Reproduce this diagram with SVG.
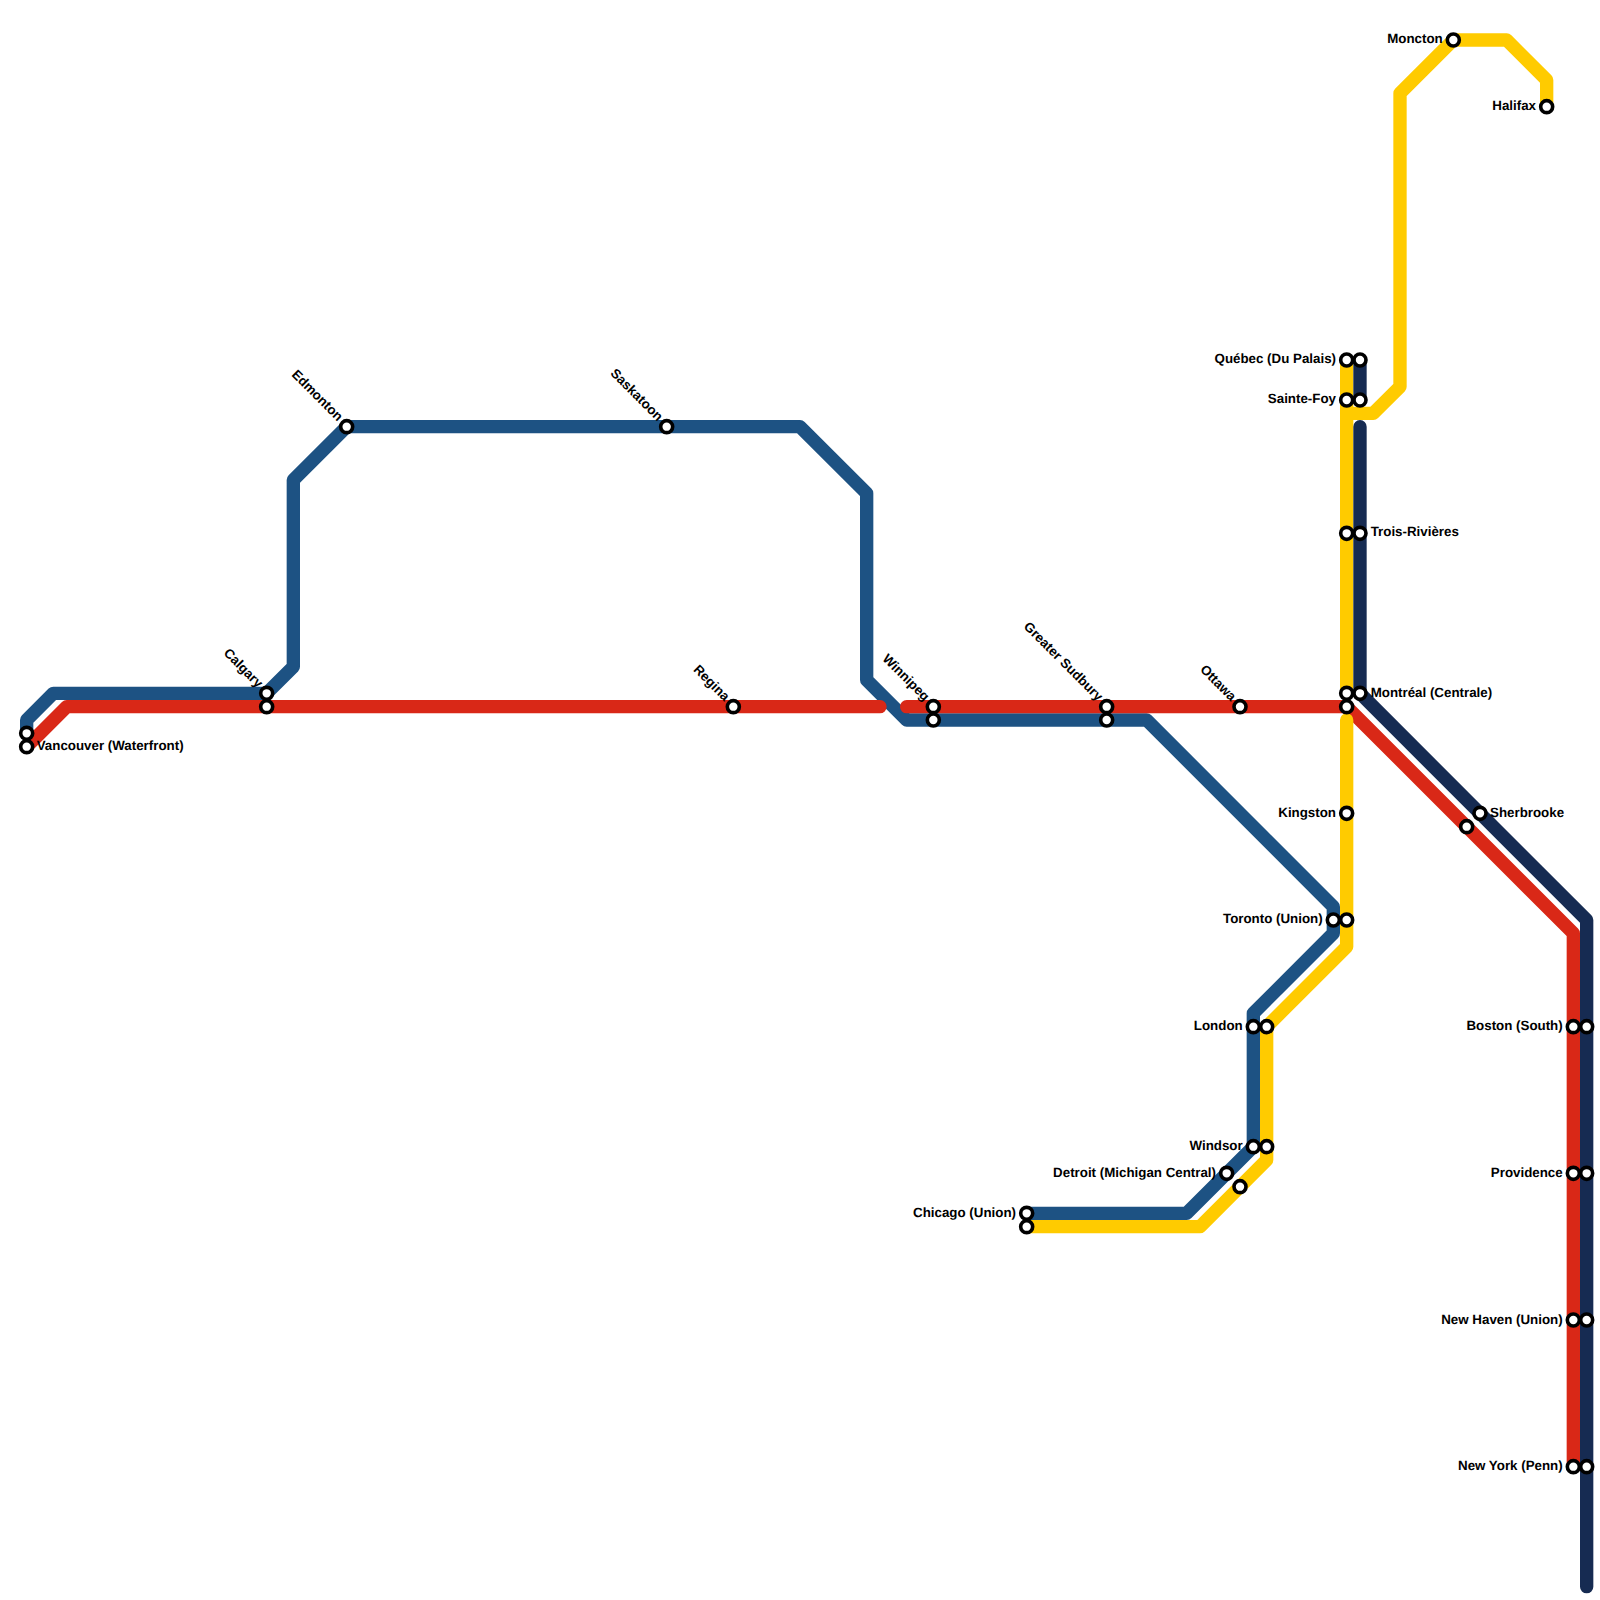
<svg xmlns="http://www.w3.org/2000/svg" width="1600" height="1600" viewBox="0 0 1600 1600">
<style>
.line{fill:none;stroke-width:13.33;stroke-linecap:round;stroke-linejoin:round}
.blue{stroke:#1d5283}.red{stroke:#d92817}.yellow{stroke:#ffcb00}.navy{stroke:#162b52}
.st{fill:#fff;stroke:#000;stroke-width:3.6}
text{font-family:"Liberation Sans",Arial,sans-serif;font-weight:700;font-size:13.33px;fill:#000;text-rendering:geometricPrecision}
.e{text-anchor:end}
</style>
<rect width="1600" height="1600" fill="#fff"/>
<g id="connectors">
<path class="line blue" d="M26.67 733.33V720L53.33 693.33H266.67L293.33 666.67V480L346.67 426.67H800L866.67 493.33V680L906.67 720H1146.67L1333.33 906.67V933.33L1253.33 1013.33V1146.67L1186.67 1213.33H1026.67"/>
<path class="line red" d="M26.67 746.67L66.67 706.67H880"/>
<path class="line red" d="M906.67 706.67H1346.67L1573.33 933.33V1466.67"/>
<path class="line yellow" d="M1346.67 360V693.33"/>
<path class="line yellow" d="M1346.67 413.33H1373.33L1400 386.67V93.33L1453.33 40H1506.67L1546.67 80V106.67"/>
<path class="line yellow" d="M1346.67 720V946.67L1266.67 1026.67V1160L1200 1226.67H1026.67"/>
<path class="line navy" d="M1360 360V400"/>
<path class="line navy" d="M1360 426.67V693.33L1586.67 920V1586.67"/>
</g>
<g id="vancouver"><circle class="st" cx="26.67" cy="733.33" r="6"/><circle class="st" cx="26.67" cy="746.67" r="6"/><text x="36.7" y="750">Vancouver (Waterfront)</text></g>
<g id="calgary"><circle class="st" cx="266.67" cy="693.33" r="6"/><circle class="st" cx="266.67" cy="706.67" r="6"/><text class="e" transform="translate(266.67 693.33) rotate(45)" x="-10" y="3">Calgary</text></g>
<g id="edmonton"><circle class="st" cx="346.67" cy="426.67" r="6"/><text class="e" transform="translate(346.67 426.67) rotate(45)" x="-10" y="3">Edmonton</text></g>
<g id="saskatoon"><circle class="st" cx="666.67" cy="426.67" r="6"/><text class="e" transform="translate(666.67 426.67) rotate(45)" x="-10" y="3">Saskatoon</text></g>
<g id="regina"><circle class="st" cx="733.33" cy="706.67" r="6"/><text class="e" transform="translate(733.33 706.67) rotate(45)" x="-10" y="3">Regina</text></g>
<g id="winnipeg"><circle class="st" cx="933.33" cy="706.67" r="6"/><circle class="st" cx="933.33" cy="720" r="6"/><text class="e" transform="translate(933.33 706.67) rotate(45)" x="-10" y="3">Winnipeg</text></g>
<g id="sudbury"><circle class="st" cx="1106.67" cy="706.67" r="6"/><circle class="st" cx="1106.67" cy="720" r="6"/><text class="e" transform="translate(1106.67 706.67) rotate(45)" x="-10" y="3">Greater Sudbury</text></g>
<g id="ottawa"><circle class="st" cx="1240" cy="706.67" r="6"/><text class="e" transform="translate(1240 706.67) rotate(45)" x="-10" y="3">Ottawa</text></g>
<g id="quebec"><circle class="st" cx="1346.67" cy="360" r="6"/><circle class="st" cx="1360" cy="360" r="6"/><text class="e" x="1336" y="363">Québec (Du Palais)</text></g>
<g id="sainte-foy"><circle class="st" cx="1346.67" cy="400" r="6"/><circle class="st" cx="1360" cy="400" r="6"/><text class="e" x="1336" y="403">Sainte-Foy</text></g>
<g id="trois-rivieres"><circle class="st" cx="1346.67" cy="533.33" r="6"/><circle class="st" cx="1360" cy="533.33" r="6"/><text x="1370.7" y="536.3">Trois-Rivières</text></g>
<g id="montreal"><circle class="st" cx="1346.67" cy="693.33" r="6"/><circle class="st" cx="1360" cy="693.33" r="6"/><circle class="st" cx="1346.67" cy="706.67" r="6"/><text x="1370.7" y="697">Montréal (Centrale)</text></g>
<g id="kingston"><circle class="st" cx="1346.67" cy="813.33" r="6"/><text class="e" x="1336" y="817">Kingston</text></g>
<g id="toronto"><circle class="st" cx="1333.33" cy="920" r="6"/><circle class="st" cx="1346.67" cy="920" r="6"/><text class="e" x="1322.7" y="923">Toronto (Union)</text></g>
<g id="london"><circle class="st" cx="1253.33" cy="1026.67" r="6"/><circle class="st" cx="1266.67" cy="1026.67" r="6"/><text class="e" x="1242.7" y="1029.7">London</text></g>
<g id="windsor"><circle class="st" cx="1253.33" cy="1146.67" r="6"/><circle class="st" cx="1266.67" cy="1146.67" r="6"/><text class="e" x="1242.7" y="1149.7">Windsor</text></g>
<g id="detroit"><circle class="st" cx="1226.67" cy="1173.33" r="6"/><circle class="st" cx="1240" cy="1186.67" r="6"/><text class="e" x="1216" y="1177">Detroit (Michigan Central)</text></g>
<g id="chicago"><circle class="st" cx="1026.67" cy="1213.33" r="6"/><circle class="st" cx="1026.67" cy="1226.67" r="6"/><text class="e" x="1016" y="1217">Chicago (Union)</text></g>
<g id="moncton"><circle class="st" cx="1453.33" cy="40" r="6"/><text class="e" x="1442.7" y="43">Moncton</text></g>
<g id="halifax"><circle class="st" cx="1546.67" cy="106.67" r="6"/><text class="e" x="1536" y="109.7">Halifax</text></g>
<g id="sherbrooke"><circle class="st" cx="1480" cy="813.33" r="6"/><circle class="st" cx="1466.67" cy="826.67" r="6"/><text x="1490" y="817">Sherbrooke</text></g>
<g id="boston"><circle class="st" cx="1573.33" cy="1026.67" r="6"/><circle class="st" cx="1586.67" cy="1026.67" r="6"/><text class="e" x="1562.7" y="1029.7">Boston (South)</text></g>
<g id="providence"><circle class="st" cx="1573.33" cy="1173.33" r="6"/><circle class="st" cx="1586.67" cy="1173.33" r="6"/><text class="e" x="1562.7" y="1177">Providence</text></g>
<g id="new-haven"><circle class="st" cx="1573.33" cy="1320" r="6"/><circle class="st" cx="1586.67" cy="1320" r="6"/><text class="e" x="1562.7" y="1324">New Haven (Union)</text></g>
<g id="new-york"><circle class="st" cx="1573.33" cy="1466.67" r="6"/><circle class="st" cx="1586.67" cy="1466.67" r="6"/><text class="e" x="1562.7" y="1470.4">New York (Penn)</text></g>
</svg>
